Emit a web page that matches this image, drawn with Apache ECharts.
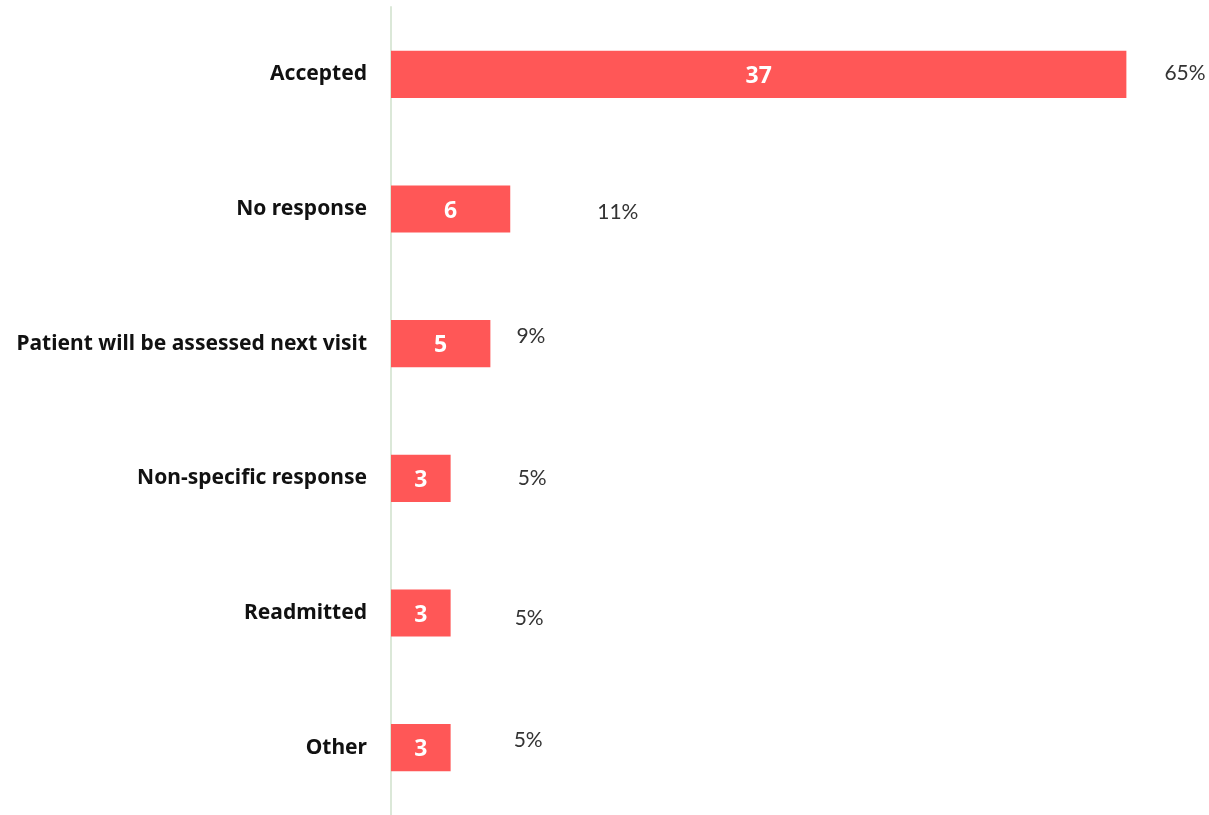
<!DOCTYPE html>
<html>
<head>
<meta charset="utf-8">
<script src="https://cdn.jsdelivr.net/npm/echarts@6/dist/echarts.min.js"></script>
<style>
  html, body { margin: 0; padding: 0; background: #fff; }
  #chart { width: 1209px; height: 815px; }
</style>
</head>
<body>
<div id="chart"></div>
<script>
// categories, top to bottom
const categories = ["Accepted", "No response", "Patient will be assessed next visit", "Non-specific response", "Readmitted", "Other"]
const counts = [37, 6, 5, 3, 3, 3]
const percents = [65, 11, 9, 5, 5, 5]
// where the % labels sit next to each bar (px)
const pctOffsets = [[33, -1], [82, 3], [21, -7], [62, 0], [59, 5], [58, -7]]

const boldFont = "'Noto Sans', sans-serif"
const thinFont = "Lato, 'Noto Sans', sans-serif"

const chart = echarts.init(document.getElementById("chart"))
chart.setOption({
  animation: false,
  grid: { left: 391, right: 23, top: 7, bottom: -2 },
  xAxis: {
    type: "value",
    min: 0,
    max: 40,
    show: false
  },
  yAxis: {
    type: "category",
    inverse: true,
    data: categories,
    axisLine: { show: true, lineStyle: { color: "#dbe8d8", width: 2 } },
    axisTick: { show: false },
    axisLabel: {
      margin: 24,
      color: "#111",
      fontFamily: boldFont,
      fontWeight: "bold",
      fontSize: 21
    }
  },
  series: [
    {
      type: "bar",
      data: counts,
      barWidth: "35%",
      itemStyle: { color: "#ff5757" },
      label: {
        show: true,
        position: "inside",
        offset: [0, 2],
        color: "#fff",
        fontFamily: boldFont,
        fontWeight: "bold",
        fontSize: 23
      },
      z: 2
    },
    {
      type: "bar",
      data: counts.map((v, i) => ({
        value: v,
        label: { offset: pctOffsets[i], formatter: percents[i] + "%" }
      })),
      barWidth: "35%",
      barGap: "-100%",
      itemStyle: { color: "transparent" },
      label: {
        show: true,
        position: "right",
        color: "#333",
        fontFamily: thinFont,
        fontSize: 21
      },
      silent: true,
      z: 1
    }
  ]
})
</script>
</body>
</html>
